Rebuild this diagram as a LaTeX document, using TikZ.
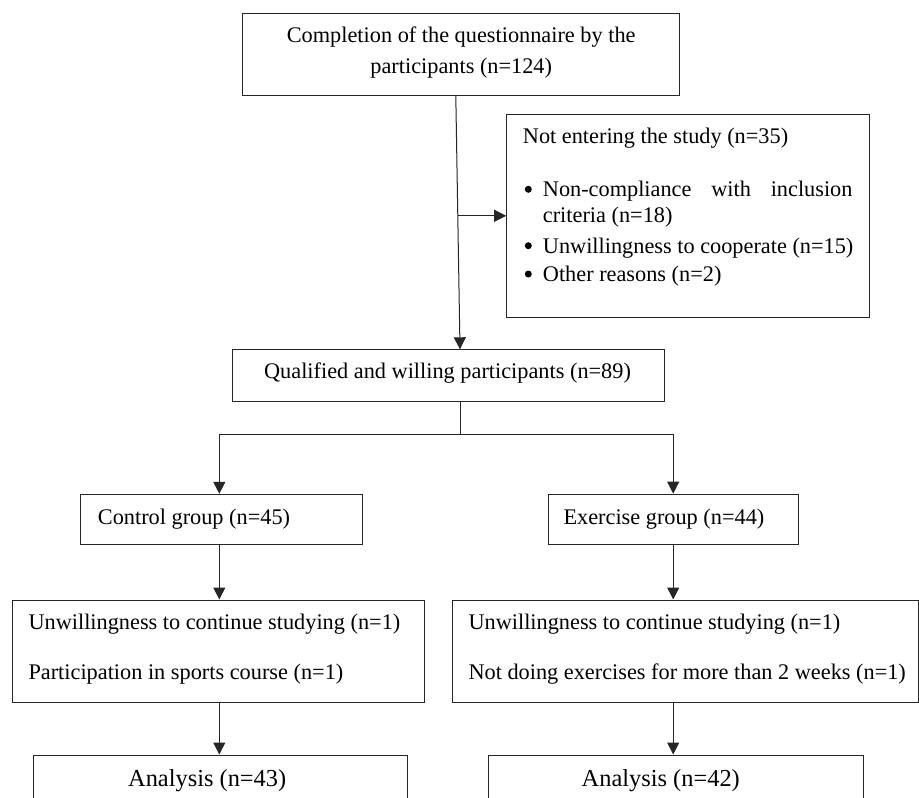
\documentclass[tikz,border=0pt]{standalone}
\usepackage{fontspec}
\setmainfont{Liberation Serif}
\usetikzlibrary{arrows.meta,calc}
\tikzset{
  box/.style={draw=black!85, line width=1pt, inner sep=0pt},
  txt/.style={inner sep=0pt, yshift=-2pt, font=\fontsize{22.3}{31}\selectfont},
  bigtxt/.style={inner sep=0pt, yshift=-1.5pt, font=\fontsize{24.4}{30}\selectfont},
  bul/.style={circle, fill=black, inner sep=0pt, minimum size=7pt},
  conn/.style={draw=black!85, line width=1pt},
  arr/.style={conn, -{Triangle[length=12pt,width=12pt]}}
}
\begin{document}
\begin{tikzpicture}[x=1pt,y=-1pt]
\clip (0,0) rectangle (919,798);
\fill[white] (0,0) rectangle (919,798);
% boxes
\node[box, minimum width=437.3pt, minimum height=82.4pt] (top) at (461.3,54.5) {};
\node[box, minimum width=363.3pt, minimum height=203pt] (excl) at (688.3,215.8) {};
\node[box, minimum width=432pt, minimum height=52pt] (qual) at (448,375.3) {};
\node[box, minimum width=281.7pt, minimum height=50.4pt] (ctrl) at (221.8,519.5) {};
\node[box, minimum width=250pt, minimum height=50.7pt] (exer) at (673.3,519.5) {};
\node[box, minimum width=412.3pt, minimum height=102pt] (lmid) at (218.8,651) {};
\node[box, minimum width=466pt, minimum height=102pt] (rmid) at (685,651) {};
\node[box, minimum width=374pt, minimum height=48pt] (anl) at (220,779) {};
\node[box, minimum width=375pt, minimum height=48pt] (anr) at (675.5,779) {};
% texts
\node[txt] (t1) at (461.2,35.5) {Completion of the questionnaire by the};
\node[txt] (t2) at (461.2,66) {participants (n=124)};
\node[txt, anchor=west] (e0) at (522.7,135.7) {Not entering the study (n=35)};
\node[bul] (b1) at (528.3,189.3) {};
\node[txt, anchor=west] (e1) at (542.7,189.3) {\makebox[309.6pt][s]{Non-compliance with inclusion}};
\node[txt, anchor=west] (e1b) at (542.7,215.5) {criteria (n=18)};
\node[bul] (b2) at (528.3,245.7) {};
\node[txt, anchor=west] (e2) at (542.7,245.7) {Unwillingness to cooperate (n=15)};
\node[bul] (b3) at (528.3,274) {};
\node[txt, anchor=west] (e3) at (542.7,274) {Other reasons (n=2)};
\node[txt] (tq) at (447.5,371.5) {Qualified and willing participants (n=89)};
\node[txt, anchor=west] (tc) at (97.7,516.7) {Control group (n=45)};
\node[txt, anchor=west] (te) at (563.3,516.7) {Exercise group (n=44)};
\node[txt, anchor=west] (l1) at (28.3,621.7) {Unwillingness to continue studying (n=1)};
\node[txt, anchor=west] (l2) at (28.3,672.3) {Participation in sports course (n=1)};
\node[txt, anchor=west] (r1) at (468.3,621.7) {Unwillingness to continue studying (n=1)};
\node[txt, anchor=west] (r2) at (468.3,672.3) {Not doing exercises for more than 2 weeks (n=1)};
\node[bigtxt] (ta) at (207.2,779) {Analysis (n=43)};
\node[bigtxt] (tb) at (660.8,779) {Analysis (n=42)};
% connectors
\coordinate (s0) at (455.8,95.7);
\coordinate (e0q) at (460,349.3);
\coordinate (j1) at (457.9,215.8);
\coordinate (bm) at (460.5,434.5);
\coordinate (bl) at (219.3,434.5);
\coordinate (br) at (673.2,434.5);
\draw[arr] (s0) -- (e0q);
\draw[arr] (j1) -- (excl.west);
\draw[conn] (bm |- qual.south) -- (bm);
\draw[arr] (bm) -- (bl) -- (bl |- ctrl.north);
\draw[arr] (bm) -- (br) -- (br |- exer.north);
\draw[arr] (bl |- ctrl.south) -- (bl |- lmid.north);
\draw[arr] (br |- exer.south) -- (br |- rmid.north);
\draw[arr] (bl |- lmid.south) -- (bl |- anl.north);
\draw[arr] (br |- rmid.south) -- (br |- anr.north);
\end{tikzpicture}
\end{document}
